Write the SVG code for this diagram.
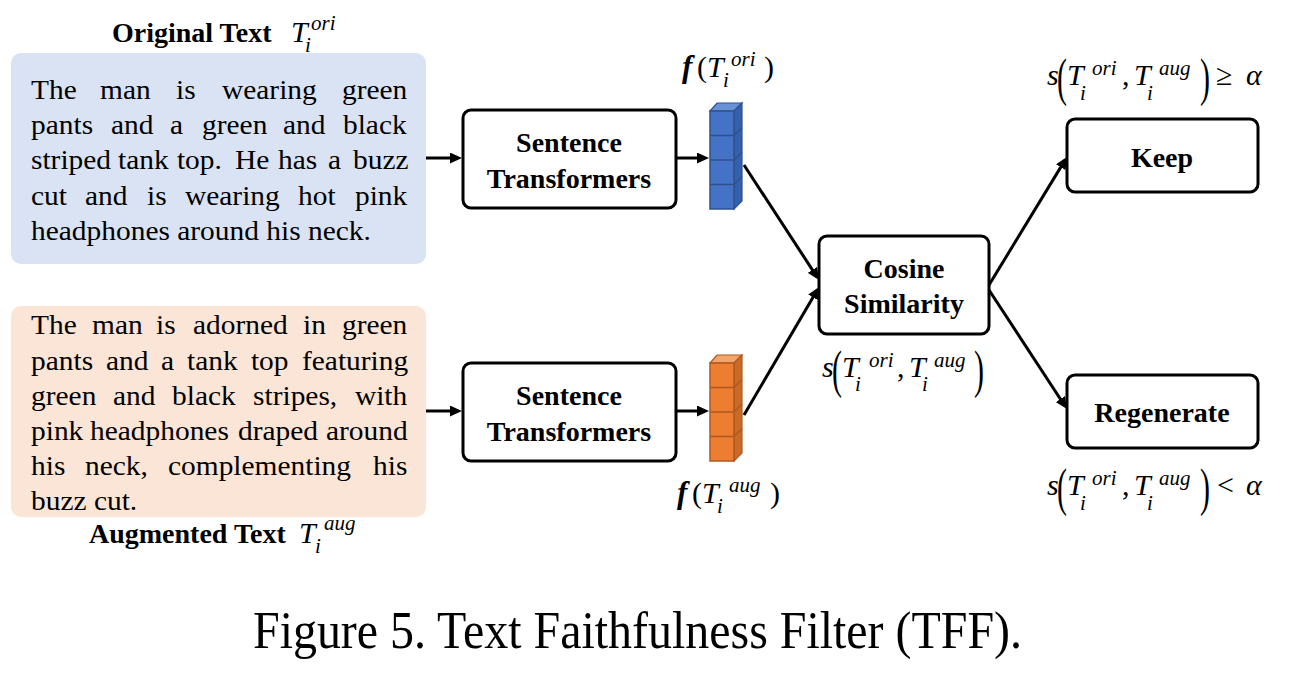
<svg xmlns="http://www.w3.org/2000/svg" width="1296" height="676" viewBox="0 0 1296 676">
<style>
text{font-family:"Liberation Serif","Times New Roman",serif;fill:#000}
.body{font-size:27px}
.b{font-size:28px;font-weight:bold}
.ctr{text-anchor:middle}
.m{font-size:30px;font-style:italic}
.sup{font-size:21px;font-style:italic}
.rg{font-size:30px}
.fb{font-size:31px;font-style:italic;font-weight:bold}
.box{fill:#fff;stroke:#000;stroke-width:3}
.conn{stroke:#000;stroke-width:3;fill:none;marker-end:url(#ah)}
</style>
<defs>
<marker id="ah" markerUnits="userSpaceOnUse" markerWidth="12" markerHeight="11" refX="8" refY="5.5" orient="auto" viewBox="0 0 12 11">
<path d="M0,0 L12,5.5 L0,11 z" fill="#000"/>
</marker>
</defs>
<rect width="1296" height="676" fill="#fff"/>

<g id="original-text">
<text class="b" x="112" y="42">Original Text</text>
<text class="m" x="291" y="42">T</text>
<text class="sup" x="311" y="30">ori</text>
<text class="sup" x="305" y="52">i</text>
<rect x="11" y="53" width="415" height="211" rx="10" fill="#dae3f3"/>
<text class="body" transform="translate(31 99) scale(1.09 1)"><tspan x="0">The</tspan><tspan x="63.3">man</tspan><tspan x="133">is</tspan><tspan x="175.2">wearing</tspan><tspan x="285.3">green</tspan></text>
<text class="body" transform="translate(31 134) scale(1.09 1)"><tspan x="0">pants</tspan><tspan x="73.4">and</tspan><tspan x="127.5">a</tspan><tspan x="156.9">green</tspan><tspan x="231.2">and</tspan><tspan x="286.2">black</tspan></text>
<text class="body" transform="translate(31 169) scale(1.09 1)"><tspan x="0">striped</tspan><tspan x="79.8">tank</tspan><tspan x="133.9">top.</tspan><tspan x="187.2">He</tspan><tspan x="226.6">has</tspan><tspan x="272.5">a</tspan><tspan x="295.4">buzz</tspan></text>
<text class="body" transform="translate(31 205) scale(1.09 1)"><tspan x="0">cut</tspan><tspan x="49.5">and</tspan><tspan x="106.4">is</tspan><tspan x="141.3">wearing</tspan><tspan x="245">hot</tspan><tspan x="297.2">pink</tspan></text>
<text class="body" transform="translate(31 240) scale(1.09 1)">headphones around his neck.</text>
</g>

<g id="augmented-text">
<rect x="11" y="306" width="415" height="211" rx="10" fill="#fbe5d6"/>
<text class="body" transform="translate(31 334) scale(1.09 1)"><tspan x="0">The</tspan><tspan x="56">man</tspan><tspan x="114.7">is</tspan><tspan x="148.6">adorned</tspan><tspan x="249.5">in</tspan><tspan x="285.3">green</tspan></text>
<text class="body" transform="translate(31 370) scale(1.09 1)"><tspan x="0">pants</tspan><tspan x="68.8">and</tspan><tspan x="119.3">a</tspan><tspan x="143.1">tank</tspan><tspan x="201.8">top</tspan><tspan x="248.6">featuring</tspan></text>
<text class="body" transform="translate(31 405) scale(1.09 1)"><tspan x="0">green</tspan><tspan x="75.2">and</tspan><tspan x="129.4">black</tspan><tspan x="203.7">stripes,</tspan><tspan x="297.2">with</tspan></text>
<text class="body" transform="translate(31 440) scale(1.09 1)"><tspan x="0">pink</tspan><tspan x="54.1">headphones</tspan><tspan x="189.9">draped</tspan><tspan x="270.6">around</tspan></text>
<text class="body" transform="translate(31 475) scale(1.09 1)"><tspan x="0">his</tspan><tspan x="49.5">neck,</tspan><tspan x="125.7">complementing</tspan><tspan x="313.8">his</tspan></text>
<text class="body" transform="translate(31 510) scale(1.09 1)">buzz cut.</text>
<text class="b" x="89" y="543">Augmented Text</text>
<text class="m" x="299" y="543">T</text>
<text class="sup" x="324" y="530">aug</text>
<text class="sup" x="315" y="553">i</text>
</g>

<g id="st-top">
<rect class="box" x="463" y="110" width="213" height="98" rx="8"/>
<text class="b ctr" x="569" y="152">Sentence</text>
<text class="b ctr" x="569" y="188">Transformers</text>
</g>

<g id="st-bottom">
<rect class="box" x="463" y="363" width="213" height="98" rx="8"/>
<text class="b ctr" x="569" y="405">Sentence</text>
<text class="b ctr" x="569" y="441">Transformers</text>
</g>

<g id="vec-ori">
<polygon points="710,111 717,103 742,103 734,111" fill="#6a90d6" stroke="#2f528f" stroke-width="1.2"/>
<polygon points="734,111 742,103 742,201 734,209" fill="#3560ad" stroke="#2f528f" stroke-width="1.2"/>
<rect x="710" y="111" width="24" height="98" fill="#4472c4" stroke="#2f528f" stroke-width="1.5"/>
<path d="M710,135.5 H734 L742,127.5 M710,160 H734 L742,152 M710,184.5 H734 L742,176.5" stroke="#2f528f" stroke-width="1.5" fill="none"/>
<text class="fb" x="682" y="77">f</text>
<text class="rg" x="697" y="77">(</text>
<text class="m" x="707" y="77">T</text>
<text class="sup" x="731" y="66">ori</text>
<text class="sup" x="723" y="87">i</text>
<text class="rg" x="764" y="77">)</text>
</g>

<g id="vec-aug">
<polygon points="710,363 717,355 742,355 734,363" fill="#f3a36c" stroke="#ae5a21" stroke-width="1.2"/>
<polygon points="734,363 742,355 742,453 734,461" fill="#c96a29" stroke="#ae5a21" stroke-width="1.2"/>
<rect x="710" y="363" width="24" height="98" fill="#ed7d31" stroke="#ae5a21" stroke-width="1.5"/>
<path d="M710,387.5 H734 L742,379.5 M710,412 H734 L742,404 M710,436.5 H734 L742,428.5" stroke="#ae5a21" stroke-width="1.5" fill="none"/>
<text class="fb" x="677" y="503">f</text>
<text class="rg" x="692" y="503">(</text>
<text class="m" x="702" y="503">T</text>
<text class="sup" x="729" y="492">aug</text>
<text class="sup" x="717" y="513">i</text>
<text class="rg" x="770" y="503">)</text>
</g>

<g id="cosine">
<rect class="box" x="819" y="236" width="170" height="98" rx="8"/>
<text class="b ctr" x="904" y="278">Cosine</text>
<text class="b ctr" x="904" y="313">Similarity</text>
<text class="m" x="822" y="377">s</text>
<text class="rg" transform="translate(832 387) scale(1 1.75)">(</text>
<text class="m" x="842" y="377">T</text>
<text class="sup" x="869" y="367">ori</text>
<text class="sup" x="855" y="391">i</text>
<text class="rg" x="897" y="377">,</text>
<text class="m" x="909" y="377">T</text>
<text class="sup" x="934" y="367">aug</text>
<text class="sup" x="922" y="391">i</text>
<text class="rg" transform="translate(974 387) scale(1 1.75)">)</text>
</g>

<g id="keep">
<rect class="box" x="1067" y="119" width="191" height="73" rx="8"/>
<text class="b ctr" x="1162" y="167">Keep</text>
<text class="m" x="1047" y="85">s</text>
<text class="rg" transform="translate(1057 95) scale(1 1.75)">(</text>
<text class="m" x="1067" y="85">T</text>
<text class="sup" x="1092" y="75">ori</text>
<text class="sup" x="1080" y="100">i</text>
<text class="rg" x="1122" y="85">,</text>
<text class="m" x="1134" y="85">T</text>
<text class="sup" x="1159" y="75">aug</text>
<text class="sup" x="1147" y="100">i</text>
<text class="rg" transform="translate(1200 95) scale(1 1.75)">)</text>
<text class="rg" x="1216" y="85">≥</text>
<text class="m" x="1246" y="85">α</text>
</g>

<g id="regenerate">
<rect class="box" x="1067" y="375" width="191" height="73" rx="8"/>
<text class="b ctr" x="1162" y="422">Regenerate</text>
<text class="m" x="1047" y="495">s</text>
<text class="rg" transform="translate(1057 505) scale(1 1.75)">(</text>
<text class="m" x="1067" y="495">T</text>
<text class="sup" x="1092" y="485">ori</text>
<text class="sup" x="1080" y="510">i</text>
<text class="rg" x="1122" y="495">,</text>
<text class="m" x="1134" y="495">T</text>
<text class="sup" x="1159" y="485">aug</text>
<text class="sup" x="1147" y="510">i</text>
<text class="rg" transform="translate(1200 505) scale(1 1.75)">)</text>
<text class="rg" x="1217" y="495">&lt;</text>
<text class="m" x="1246" y="495">α</text>
</g>

<g id="connectors">
<line class="conn" x1="426" y1="158" x2="458" y2="158"/>
<line class="conn" x1="676" y1="158" x2="705" y2="158"/>
<line class="conn" x1="426" y1="411" x2="458" y2="411"/>
<line class="conn" x1="676" y1="411" x2="705" y2="411"/>
<line class="conn" x1="744" y1="165" x2="816.8" y2="276.6"/>
<line class="conn" x1="744" y1="415" x2="817" y2="290.5"/>
<line class="conn" x1="989" y1="285" x2="1064.9" y2="160.4"/>
<line class="conn" x1="989" y1="290" x2="1064.8" y2="405.7"/>
</g>

<text x="253" y="648" font-size="53" textLength="769" lengthAdjust="spacingAndGlyphs">Figure 5. Text Faithfulness Filter (TFF).</text>
</svg>
